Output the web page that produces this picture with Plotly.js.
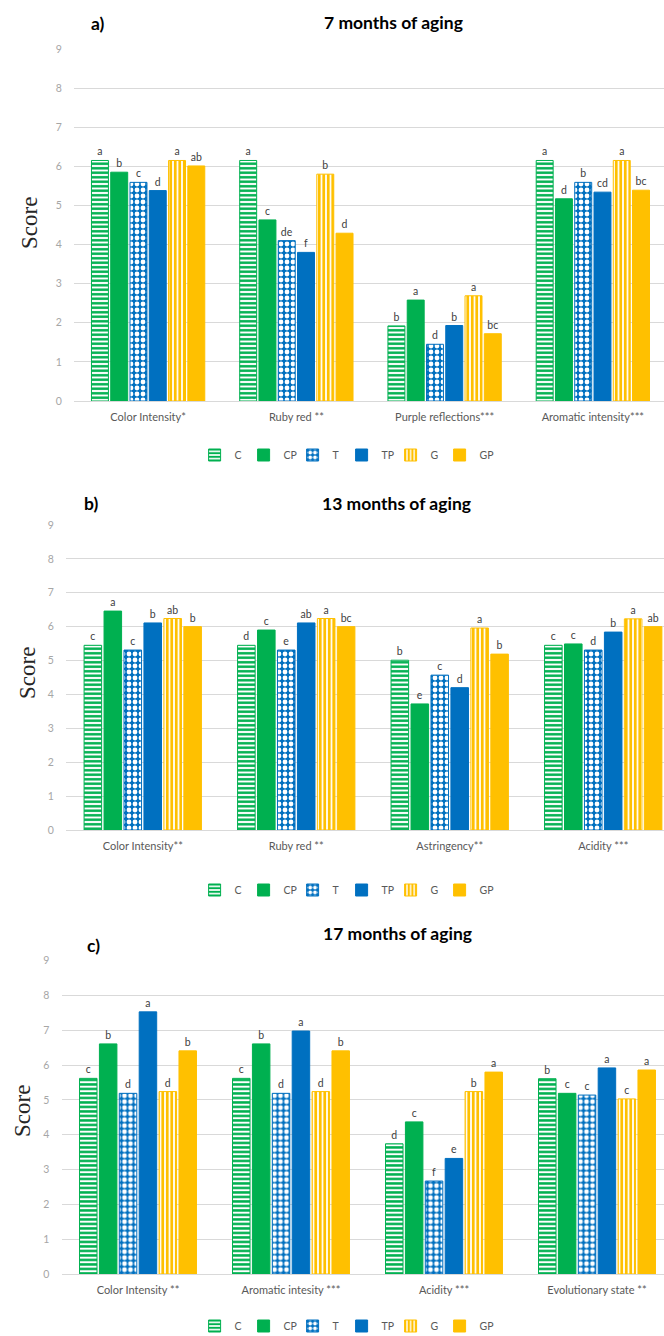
<!DOCTYPE html>
<html>
<head>
<meta charset="utf-8">
<script src="https://cdn.plot.ly/plotly-3.0.1.min.js"></script>
<style>
html,body{margin:0;padding:0;background:#fff;}
#chart{width:664px;height:1336px;}
</style>
</head>
<body>
<div id="chart"></div>
<script>
// ---------- DATA ----------
const seriesNames = ['C', 'CP', 'T', 'TP', 'G', 'GP'];

// Panel a) 7 months of aging
const catsA = ['Color Intensity*', 'Ruby red **', 'Purple reflections***', 'Aromatic intensity***'];
const a_C  = [6.15, 6.15, 1.92, 6.15];
const a_CP = [5.85, 4.63, 2.58, 5.17];
const a_T  = [5.59, 4.10, 1.45, 5.59];
const a_TP = [5.38, 3.80, 1.93, 5.34];
const a_G  = [6.15, 5.80, 2.69, 6.15];
const a_GP = [6.01, 4.29, 1.72, 5.39];
const a_C_sig  = ['a', 'a', 'b', 'a'];
const a_CP_sig = ['b', 'c', 'a', 'd'];
const a_T_sig  = ['c', 'de', 'd', 'b'];
const a_TP_sig = ['d', 'f', 'b', 'cd'];
const a_G_sig  = ['a', 'b', 'a', 'a'];
const a_GP_sig = ['ab', 'd', 'bc', 'bc'];

// Panel b) 13 months of aging
const catsB = ['Color Intensity**', 'Ruby red **', 'Astringency**', 'Acidity ***'];
const b_C  = [5.45, 5.45, 5.01, 5.45];
const b_CP = [6.46, 5.90, 3.72, 5.49];
const b_T  = [5.31, 5.31, 4.57, 5.31];
const b_TP = [6.11, 6.11, 4.20, 5.84];
const b_G  = [6.24, 6.24, 5.96, 6.23];
const b_GP = [6.00, 6.00, 5.19, 6.00];
const b_C_sig  = ['c', 'd', 'b', 'c'];
const b_CP_sig = ['a', 'c', 'e', 'c'];
const b_T_sig  = ['c', 'e', 'c', 'd'];
const b_TP_sig = ['b', 'ab', 'd', 'b'];
const b_G_sig  = ['ab', 'a', 'a', 'a'];
const b_GP_sig = ['b', 'bc', 'b', 'ab'];

// Panel c) 17 months of aging
const catsC = ['Color Intensity **', 'Aromatic intesity ***', 'Acidity ***', 'Evolutionary state **'];
const c_C  = [5.62, 5.62, 3.74, 5.61];
const c_CP = [6.61, 6.61, 4.37, 5.19];
const c_T  = [5.19, 5.19, 2.67, 5.14];
const c_TP = [7.53, 6.98, 3.32, 5.92];
const c_G  = [5.24, 5.24, 5.24, 5.03];
const c_GP = [6.41, 6.41, 5.80, 5.86];
const c_C_sig  = ['c', 'c', 'd', 'b'];
const c_CP_sig = ['b', 'b', 'c', 'c'];
const c_T_sig  = ['d', 'd', 'f', 'c'];
const c_TP_sig = ['a', 'a', 'e', 'a'];
const c_G_sig  = ['d', 'd', 'b', 'c'];
const c_GP_sig = ['b', 'b', 'a', 'a'];

const yTicks = [0, 1, 2, 3, 4, 5, 6, 7, 8, 9];

// ---------- STYLE ----------
const W = 664, H = 1336;
const GREEN = '#00B050', BLUE = '#0070C0', YELLOW = '#FFC000';
const seriesColor = [GREEN, GREEN, BLUE, BLUE, YELLOW, YELLOW];
const seriesPattern = [
  {shape: '-', fgcolor: GREEN, bgcolor: '#ffffff', size: 4.5, solidity: 0.55},
  null,
  {shape: '.', fgcolor: '#ffffff', bgcolor: BLUE, size: 6, solidity: 0.5},
  null,
  {shape: '|', fgcolor: YELLOW, bgcolor: '#ffffff', size: 4.5, solidity: 0.62},
  null
];
const FONT = 'Lato, "Open Sans", sans-serif';
const px = x => x / W;
const py = y => 1 - y / H;

const panels = [
  {cats: catsA, vals: [a_C, a_CP, a_T, a_TP, a_G, a_GP], sig: [a_C_sig, a_CP_sig, a_T_sig, a_TP_sig, a_G_sig, a_GP_sig],
   xa: 'x', ya: 'y', leg: 'legend'},
  {cats: catsB, vals: [b_C, b_CP, b_T, b_TP, b_G, b_GP], sig: [b_C_sig, b_CP_sig, b_T_sig, b_TP_sig, b_G_sig, b_GP_sig],
   xa: 'x2', ya: 'y2', leg: 'legend2'},
  {cats: catsC, vals: [c_C, c_CP, c_T, c_TP, c_G, c_GP], sig: [c_C_sig, c_CP_sig, c_T_sig, c_TP_sig, c_G_sig, c_GP_sig],
   xa: 'x3', ya: 'y3', leg: 'legend3'}
];

const traces = [];
panels.forEach(p => {
  seriesNames.forEach((name, i) => {
    const marker = {color: seriesColor[i], line: {color: seriesColor[i], width: 1}};
    if (seriesPattern[i]) marker.pattern = Object.assign({fillmode: 'replace'}, seriesPattern[i]);
    const tr = {
      type: 'bar', name: name, x: p.cats, y: p.vals[i],
      xaxis: p.xa, yaxis: p.ya, legend: p.leg,
      marker: marker,
      text: p.sig[i], textposition: 'outside', cliponaxis: false, constraintext: 'none',
      textfont: {family: FONT, size: 10.5, color: '#404040'},
      hoverinfo: 'x+y+name'
    };
    if (i === seriesNames.length - 1) tr.legendwidth = 18;
    traces.push(tr);
  });
});

function xAxis(domain, rangeMax, anchor) {
  return {domain: domain, anchor: anchor, type: 'category', range: [-0.5, rangeMax],
    showgrid: false, zeroline: false, showline: false,
    ticks: 'outside', ticklen: 6, tickcolor: 'rgba(0,0,0,0)',
    tickfont: {family: FONT, size: 11, color: '#595959'}, fixedrange: true};
}
function yAxis(domain, anchor) {
  return {domain: domain, anchor: anchor, range: [0, 9], tickvals: yTicks,
    showgrid: true, gridcolor: '#D9D9D9', gridwidth: 1,
    zeroline: true, zerolinecolor: '#D9D9D9', zerolinewidth: 1, showline: false,
    ticks: 'outside', ticklen: 9, tickcolor: 'rgba(0,0,0,0)',
    tickfont: {family: FONT, size: 10.5, color: '#A6A6A6'}, fixedrange: true};
}
function legendAt(yPix) {
  return {orientation: 'h', x: 0.525, xanchor: 'center', y: py(yPix), yanchor: 'middle',
    xref: 'paper', yref: 'paper', font: {family: FONT, size: 10.5, color: '#595959'},
    itemwidth: 30, entrywidth: 4, entrywidthmode: 'pixels',
    bgcolor: 'rgba(0,0,0,0)', traceorder: 'normal'};
}
function ann(text, xPix, yPix, opts) {
  return Object.assign({text: text, x: px(xPix), y: py(yPix), xref: 'paper', yref: 'paper',
    showarrow: false, xanchor: 'center', yanchor: 'middle'}, opts || {});
}
const titleFont = {family: FONT, size: 17.5, color: '#000000', weight: 'bold'};
const scoreFont = {family: '"Liberation Serif", "DejaVu Serif", serif', size: 23, color: '#262626'};

const layout = {
  width: W, height: H,
  margin: {l: 0, r: 0, t: 0, b: 0, autoexpand: false},
  paper_bgcolor: '#ffffff', plot_bgcolor: '#ffffff',
  barmode: 'group', bargap: 0.22, bargroupgap: 0.12,
  showlegend: true,
  xaxis: xAxis([px(74), 1], 3.48, 'y'),
  yaxis: yAxis([py(401), py(49)], 'x'),
  xaxis2: xAxis([px(66), 1], 3.396, 'y2'),
  yaxis2: yAxis([py(830), py(525)], 'x2'),
  xaxis3: xAxis([px(61.5), 1], 3.438, 'y3'),
  yaxis3: yAxis([py(1274), py(960.7)], 'x3'),
  legend: legendAt(455),
  legend2: legendAt(890),
  legend3: legendAt(1326),
  annotations: [
    ann('<b>a)</b>', 89, 23, {xanchor: 'left', font: titleFont}),
    ann('<b>7 months of aging</b>', 393, 22, {font: titleFont}),
    ann('<b>b)</b>', 82, 503, {xanchor: 'left', font: titleFont}),
    ann('<b>13 months of aging</b>', 396, 503, {font: titleFont}),
    ann('<b>c)</b>', 85, 945, {xanchor: 'left', font: titleFont}),
    ann('<b>17 months of aging</b>', 397, 933, {font: titleFont}),
    ann('Score', 29, 223, {textangle: -90, font: scoreFont}),
    ann('Score', 27, 673, {textangle: -90, font: scoreFont}),
    ann('Score', 22, 1111, {textangle: -90, font: scoreFont})
  ]
};

Plotly.newPlot('chart', traces, layout, {displayModeBar: false, responsive: false, staticPlot: true});
</script>
</body>
</html>
